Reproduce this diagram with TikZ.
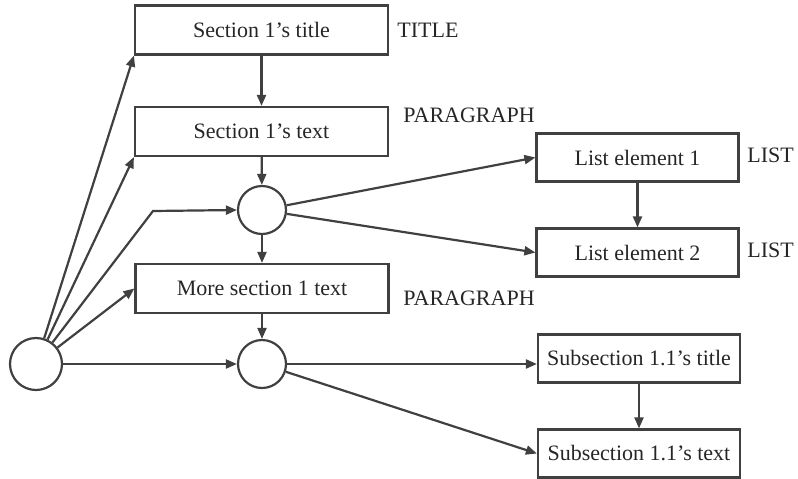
\documentclass[tikz,border=0pt]{standalone}
\usepackage{fontspec}
\setmainfont{Liberation Serif}
\usetikzlibrary{arrows.meta}
\begin{document}
\begin{tikzpicture}[x=0.5pt,y=-0.5pt,
  ink/.style={draw=black!75, line width=1.1pt},
  box/.style={ink, rectangle, inner sep=0pt, text=black!85, font=\fontsize{11}{13}\selectfont},
  wbox/.style={box, minimum width=126.5pt, minimum height=24.5pt},
  nbox/.style={box, minimum width=101pt, minimum height=24pt},
  circ/.style={ink, circle, inner sep=0pt, minimum size=24pt},
  lab/.style={anchor=west, inner sep=0pt, text=black!85, font=\fontsize{11}{13}\selectfont},
  arr/.style={ink, -{Triangle[length=5.5pt,width=4.5pt]}}]
\useasboundingbox (0,0) rectangle (798,478);
% left column
\node[wbox] (t1) at (261.5,30) {Section 1's title};
\node[wbox] (t2) at (261.5,131.5) {Section 1's text};
\node[circ] (c1) at (262,210) {};
\node[wbox] (t3) at (262,288.5) {More section 1 text};
\node[circ] (c2) at (262,364) {};
\node[circ, minimum size=26pt] (c0) at (36,364) {};
\coordinate (bend) at (153,211);
% right column
\node[nbox] (l1) at (637.5,157.5) {List element 1};
\node[nbox] (l2) at (637.5,252.5) {List element 2};
\node[nbox] (s1) at (639,358.5) {Subsection 1.1's title};
\node[nbox] (s2) at (639,453.5) {Subsection 1.1's text};
% labels
\node[lab] (lt) at (397,30) {TITLE};
\node[lab] (lp1) at (403,115) {PARAGRAPH};
\node[lab] (lp2) at (403,298) {PARAGRAPH};
\node[lab] (ll1) at (747,155) {LIST};
\node[lab] (ll2) at (747,250) {LIST};
% arrows
\draw[arr] (c0) -- (t1.south west);
\draw[arr] (c0) -- (t2.south west);
\draw[arr] (c0) -- (bend) -- (c1.west);
\draw[arr] (c0) -- (t3.west);
\draw[arr] (c0) -- (c2);
\draw[arr] (t1) -- (t2);
\draw[arr] (t2) -- (c1);
\draw[arr] (c1) -- (t3);
\draw[arr] (t3) -- (c2);
\draw[arr] (c1) -- (l1.west);
\draw[arr] (c1) -- (l2.west);
\draw[arr] (l1) -- (l2);
\draw[arr] (c2.east) -- (c2.east -| s1.west);
\draw[arr] (c2) -- (s2.west);
\draw[arr] (s1) -- (s2);
\end{tikzpicture}
\end{document}
